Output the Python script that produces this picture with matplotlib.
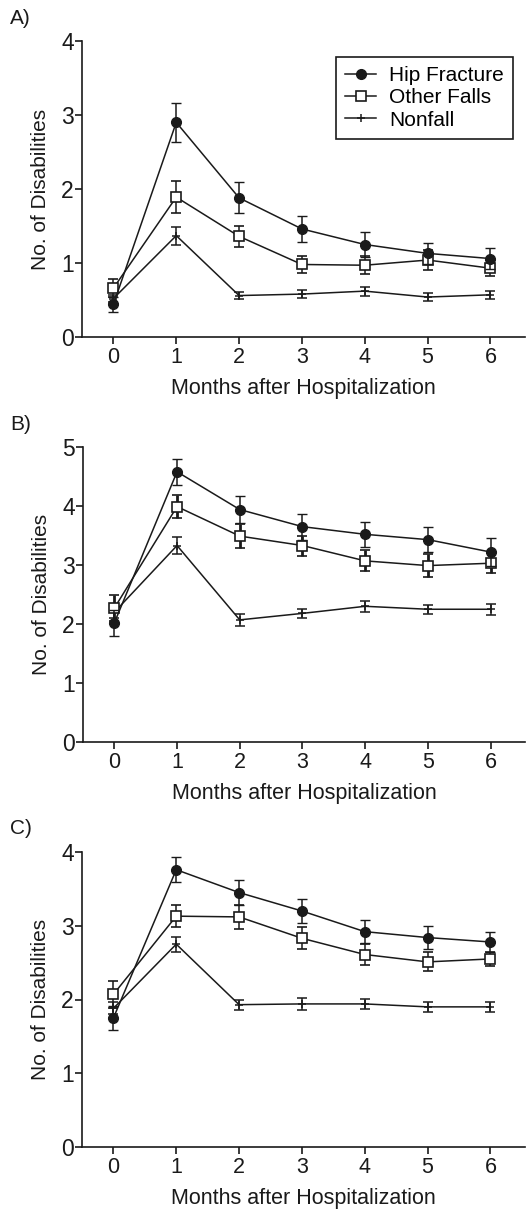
import numpy as np
import matplotlib
matplotlib.use("Agg")
import matplotlib.pyplot as plt
from matplotlib.lines import Line2D

plt.rcParams["font.family"] = ["Liberation Sans", "DejaVu Sans"]

months = [0, 1, 2, 3, 4, 5, 6]
series_names = ["Hip Fracture", "Other Falls", "Nonfall"]

# Panel A
hip_a = [0.44, 2.90, 1.88, 1.46, 1.25, 1.13, 1.06]
hip_a_err = [0.10, 0.26, 0.21, 0.17, 0.17, 0.14, 0.14]
other_a = [0.66, 1.89, 1.36, 0.98, 0.97, 1.04, 0.93]
other_a_err = [0.12, 0.22, 0.14, 0.12, 0.12, 0.13, 0.11]
nonfall_a = [0.52, 1.37, 0.56, 0.58, 0.62, 0.54, 0.57]
nonfall_a_err = [0.05, 0.12, 0.05, 0.05, 0.06, 0.05, 0.05]

# Panel B
hip_b = [2.02, 4.58, 3.94, 3.65, 3.52, 3.43, 3.22]
hip_b_err = [0.22, 0.22, 0.23, 0.22, 0.21, 0.21, 0.23]
other_b = [2.27, 3.99, 3.49, 3.33, 3.07, 2.99, 3.03]
other_b_err = [0.22, 0.20, 0.20, 0.17, 0.18, 0.20, 0.17]
nonfall_b = [2.20, 3.33, 2.07, 2.18, 2.30, 2.25, 2.25]
nonfall_b_err = [0.10, 0.14, 0.10, 0.08, 0.09, 0.08, 0.09]

# Panel C
hip_c = [1.75, 3.76, 3.45, 3.20, 2.92, 2.84, 2.78]
hip_c_err = [0.16, 0.17, 0.17, 0.16, 0.16, 0.15, 0.13]
other_c = [2.07, 3.13, 3.12, 2.83, 2.61, 2.51, 2.55]
other_c_err = [0.18, 0.15, 0.16, 0.15, 0.14, 0.13, 0.10]
nonfall_c = [1.88, 2.75, 1.93, 1.94, 1.94, 1.90, 1.90]
nonfall_c_err = [0.08, 0.10, 0.07, 0.08, 0.07, 0.07, 0.07]

panels = [
    ("A)", 4, (hip_a, hip_a_err), (other_a, other_a_err), (nonfall_a, nonfall_a_err)),
    ("B)", 5, (hip_b, hip_b_err), (other_b, other_b_err), (nonfall_b, nonfall_b_err)),
    ("C)", 4, (hip_c, hip_c_err), (other_c, other_c_err), (nonfall_c, nonfall_c_err)),
]

# axes boxes in pixels: (left, top, bottom)
W, H = 530, 1210
boxes = [(82, 41, 337), (83, 447, 742), (82, 852, 1147)]
right_px = 525

fig = plt.figure(figsize=(W / 100, H / 100), dpi=100)
col = "#1a1a1a"

for (label, ymax, hip, other, nonfall), (lx, ty, by) in zip(panels, boxes):
    ax = fig.add_axes([lx / W, 1 - by / H, (right_px - lx) / W, (by - ty) / H])

    ax.errorbar(months, nonfall[0], yerr=nonfall[1], color=col, lw=1.1,
                marker="+", ms=6, mew=1.1, capsize=3.5, elinewidth=1.1,
                zorder=2)
    other_ew = 2.0 if label == "B)" else 1.1
    ax.errorbar(months, other[0], yerr=other[1], color=col, lw=1.1,
                marker="s", ms=7, mfc="white", mec=col, mew=1.2,
                capsize=3.5, elinewidth=other_ew, capthick=other_ew,
                zorder=3)
    ax.errorbar(months, hip[0], yerr=hip[1], color=col, lw=1.1,
                marker="o", ms=7, mfc=col, mec=col,
                capsize=3.5, elinewidth=1.1, zorder=4)

    ax.set_xlim(-0.5, 6.55)
    ax.set_ylim(0, ymax)
    ax.set_xticks(months)
    ax.set_yticks(range(ymax + 1))
    for s in ["top", "right"]:
        ax.spines[s].set_visible(False)
    for s in ["left", "bottom"]:
        ax.spines[s].set_linewidth(1.2)
        ax.spines[s].set_color(col)
    ax.tick_params(direction="out", length=5, width=1.2, colors=col, pad=2)
    ax.tick_params(axis="x", labelsize=15.5)
    ax.tick_params(axis="y", labelsize=16.5, pad=1)
    ax.set_ylabel("No. of Disabilities", fontsize=15, color=col)
    ax.yaxis.set_label_coords(-0.072, 0.5)
    ax.set_xlabel("Months after Hospitalization", fontsize=15.5, color=col)
    ax.xaxis.set_label_coords(0.5, -0.138)

    fig.text(10 / W, 1 - 18 / H - (ty - 41) / H, label, fontsize=15,
             color=col, va="center", ha="left")

    if label == "A)":
        handles = [
            Line2D([], [], color=col, lw=1.1, marker="o", ms=7, mfc=col),
            Line2D([], [], color=col, lw=1.1, marker="s", ms=7, mfc="white", mew=1.2),
            Line2D([], [], color=col, lw=1.1, marker="+", ms=6, mew=1.1),
        ]
        leg = ax.legend(handles, series_names, loc="upper right",
                        bbox_to_anchor=(0.973, 0.946), borderaxespad=0,
                        fontsize=15, frameon=True, fancybox=False,
                        edgecolor=col, framealpha=1,
                        handlelength=1.5, borderpad=0.45, labelspacing=0.15,
                        handletextpad=0.6)
        leg.get_frame().set_linewidth(1.2)

fig.savefig("out.png", dpi=100)
